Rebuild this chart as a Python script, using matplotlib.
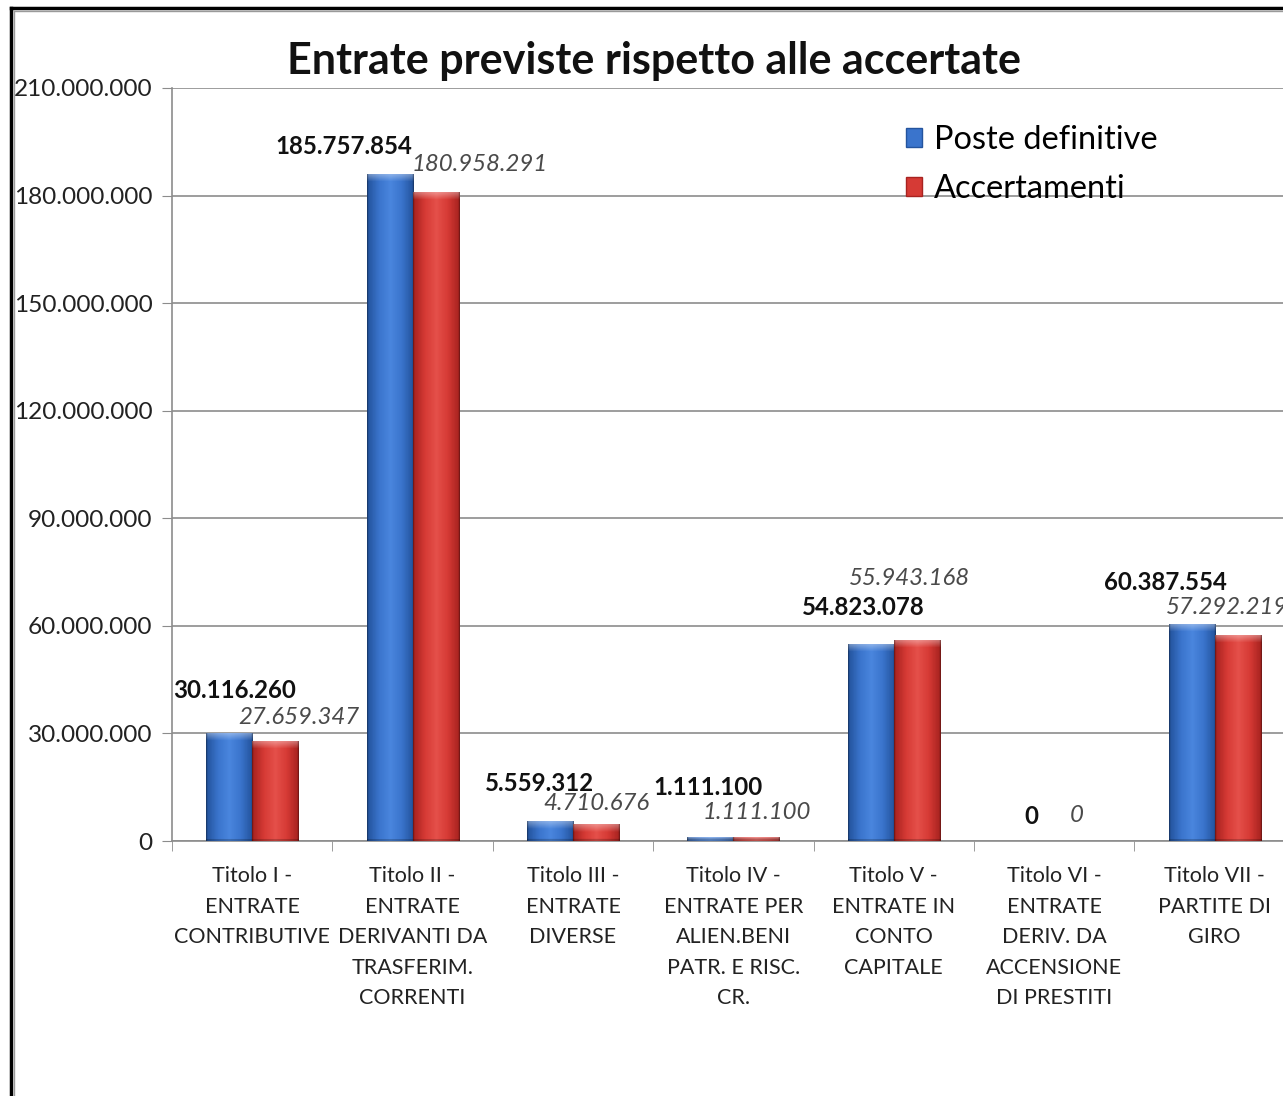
import numpy as np
import matplotlib
matplotlib.use("Agg")
import matplotlib.pyplot as plt
from matplotlib.colors import LinearSegmentedColormap
from matplotlib.lines import Line2D
from matplotlib.patches import Patch
from matplotlib.ticker import FuncFormatter

plt.rcParams['font.family'] = ['Lato', 'DejaVu Sans']

# dati
categorie = ["Titolo I -\nENTRATE\nCONTRIBUTIVE",
             "Titolo II -\nENTRATE\nDERIVANTI DA\nTRASFERIM.\nCORRENTI",
             "Titolo III -\nENTRATE\nDIVERSE",
             "Titolo IV -\nENTRATE PER\nALIEN.BENI\nPATR. E RISC.\nCR.",
             "Titolo V -\nENTRATE IN\nCONTO\nCAPITALE",
             "Titolo VI -\nENTRATE\nDERIV. DA\nACCENSIONE\nDI PRESTITI",
             "Titolo VII -\nPARTITE DI\nGIRO"]
poste_definitive = [30116260, 185757854, 5559312, 1111100, 54823078, 0, 60387554]
accertamenti = [27659347, 180958291, 4710676, 1111100, 55943168, 0, 57292219]
serie = ["Poste definitive", "Accertamenti"]

# spostamento etichette (pixel) come nel grafico excel
off_blu = [(5, 43), (-46, 28), (-10, 38), (-2, 50), (-7, 37), (0, 25), (-26, 42)]
off_rosso = [(24, 24), (44, 28), (0, 21), (0, 25), (-7, 62), (0, 25), (-11, 28)]

def fmt_it(v, pos=None):
    return f"{int(v):,}".replace(",", ".")

W, H = 1283, 1096
fig = plt.figure(figsize=(W / 100, H / 100), dpi=100)
fig.patch.set_facecolor("white")

x0, y0, y1 = 172, 841, 88
cat_w = 160.4
ax = fig.add_axes([x0 / W, (H - y0) / H, 7 * cat_w / W, (y0 - y1) / H])

x = np.arange(len(categorie))
w = 0.287
b1 = ax.bar(x - w / 2, poste_definitive, w, color="#3a74cc", zorder=3)
b2 = ax.bar(x + w / 2, accertamenti, w, color="#d63a35", zorder=3)

# sfumatura tipo excel sulle barre
px_per_val = (y0 - y1) / 210000000
def sfuma(bars, c_dark, c_mid, c_light):
    cm = LinearSegmentedColormap.from_list("g", [c_dark, c_mid, c_light, c_mid, c_dark], N=64)
    prof = cm(np.linspace(0, 1, 40))[:, :3]
    for p in bars:
        h = p.get_height()
        if h <= 0:
            continue
        npx = max(int(h * px_per_val), 2)
        img = np.tile(prof[None, :, :], (npx, 1, 1))
        nb = min(7, npx)
        for r in range(nb):
            f = 0.35 * (1 - r / nb)
            img[r] = img[r] + (1 - img[r]) * f
        img[-2:] = img[-2:] * 0.8
        img[:, 0] = img[:, 0] * 0.7
        img[:, -1] = img[:, -1] * 0.7
        ax.imshow(img, extent=(p.get_x(), p.get_x() + p.get_width(), 0, h),
                  aspect="auto", zorder=4, interpolation="bilinear")

sfuma(b1, "#24549e", "#3a74cc", "#4a86de")
sfuma(b2, "#a82320", "#d63a35", "#e5504a")
ax.set_xlim(-0.5, len(categorie) - 0.5)
ax.set_ylim(0, 210000000)

# etichette dati
for i in range(len(categorie)):
    ax.annotate(fmt_it(poste_definitive[i]), (x[i] - w / 2, poste_definitive[i]),
                xytext=off_blu[i], textcoords="offset pixels",
                ha="center", va="center", fontsize=17.3, fontweight="bold",
                color="#111111", zorder=6, annotation_clip=False)
    ax.annotate(fmt_it(accertamenti[i]), (x[i] + w / 2, accertamenti[i]),
                xytext=off_rosso[i], textcoords="offset pixels",
                ha="center", va="center", fontsize=17.3, fontstyle="italic",
                color="#4a4a4a", zorder=6, annotation_clip=False)

# assi
ax.set_yticks(np.arange(0, 210000001, 30000000))
ax.yaxis.set_major_formatter(FuncFormatter(fmt_it))
ax.grid(axis="y", color="#8c8c8c", linewidth=1.2, zorder=0)
ax.set_axisbelow(True)
for s in ["top", "right"]:
    ax.spines[s].set_visible(False)
for s in ["left", "bottom"]:
    ax.spines[s].set_color("#8c8c8c")
    ax.spines[s].set_linewidth(1.2)
ax.tick_params(axis="y", length=7, color="#8c8c8c", pad=7, labelsize=17.6, labelcolor="#222222")
ax.set_xticks(x)
ax.set_xticklabels(categorie, fontsize=15.5, color="#222222", linespacing=1.66)
ax.set_xticks(np.arange(len(categorie) + 1) - 0.5, minor=True)
ax.tick_params(axis="x", which="major", length=0, pad=18)
ax.tick_params(axis="x", which="minor", length=7, color="#8c8c8c")

fig.text(654 / W, 1 - 61 / H, "Entrate previste rispetto alle accertate",
         ha="center", va="center", fontsize=31, fontweight="bold", color="#111111")

handles = [Patch(facecolor="#3a74cc", edgecolor="#24549e"),
           Patch(facecolor="#d63a35", edgecolor="#a82320")]
fig.legend(handles, serie, loc="upper left", bbox_to_anchor=(906 / W, 1 - 125 / H),
           frameon=False, fontsize=23.4, handlelength=0.5, handleheight=0.5,
           handletextpad=0.35, labelspacing=0.58, borderpad=0, borderaxespad=0)

# cornice esterna
fig.add_artist(Line2D([11 / W, 11 / W], [0, 1 - 8 / H], color="black", lw=2.5,
                      transform=fig.transFigure))
fig.add_artist(Line2D([11 / W, 1.0], [1 - 8 / H, 1 - 8 / H], color="black", lw=2.5,
                      transform=fig.transFigure))
fig.add_artist(Line2D([14 / W, 14 / W], [0, 1 - 11 / H], color="#9a9a9a", lw=1,
                      transform=fig.transFigure))
fig.add_artist(Line2D([14 / W, 1.0], [1 - 11 / H, 1 - 11 / H], color="#9a9a9a", lw=1,
                      transform=fig.transFigure))

fig.savefig("out.png", dpi=100)
